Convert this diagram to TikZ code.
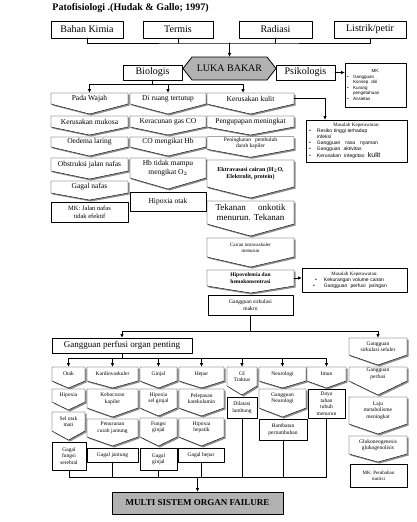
\documentclass[tikz,border=0pt]{standalone}
\usepackage{fontspec}
\setmainfont{Liberation Serif}
\newfontfamily\arial{Liberation Sans}
\usetikzlibrary{arrows.meta,shapes.arrows}
\pgfdeclarelayer{bg}
\pgfsetlayers{bg,main}

\begin{document}
\begin{tikzpicture}[x=1pt, y=-1pt, line cap=round, line join=round,
    line width=0.8pt,
    box/.style={draw, fill=white, inner sep=0.5pt, outer sep=0pt, align=center},
    arrbox/.style={inner sep=0.5pt, outer sep=0pt, align=center,
      append after command={\pgfextra{\begin{pgfonlayer}{bg}
        \fill[black!45] ([shift={(1.5,1.5)}]\tikzlastnode.north west)
          -- ([shift={(1.5,1.5)}]\tikzlastnode.north east)
          -- ([shift={(1.5,1.5)}]\tikzlastnode.south east)
          -- ([shift={(1.5,1.5+#1)}]\tikzlastnode.south)
          -- ([shift={(1.5,1.5)}]\tikzlastnode.south west) -- cycle;
        \filldraw[fill=white] (\tikzlastnode.north west)
          -- (\tikzlastnode.north east) -- (\tikzlastnode.south east)
          -- ([shift={(0,#1)}]\tikzlastnode.south)
          -- (\tikzlastnode.south west) -- cycle;
      \end{pgfonlayer}}}},
    arrbox/.default=8,
    luka/.style={shape=double arrow, double arrow head extend=0pt,
      double arrow tip angle=104, draw, fill=black!30, inner sep=0.5pt,
      outer sep=0pt, minimum height=93, minimum width=23,
      font=\fontsize{10}{11}\selectfont},
    arr/.style={-{Latex[length=4pt,width=3.5pt]}},
    fbig/.style={font=\fontsize{10}{11}\selectfont},
    fnine/.style={font=\fontsize{9}{10}\selectfont},
    fmid/.style={font=\fontsize{7.5}{8.5}\selectfont},
    fsix/.style={font=\fontsize{6.5}{7.5}\selectfont},
    fsml/.style={font=\fontsize{5.5}{6.5}\selectfont},
    ftny/.style={font=\fontsize{5}{6}\selectfont},
    note/.style={box, align=left, font=\arial\fontsize{5}{6}\selectfont}]
  \useasboundingbox (0,0) rectangle (417,522);
  \node[anchor=west, inner sep=0pt, font=\bfseries\fontsize{10}{12}\selectfont]
    (ttl) at (52,8.5) {Patofisiologi .(Hudak \& Gallo; 1997)};

  % penyebab luka bakar
  \node[box, fbig, minimum width=72, minimum height=17] (km) at (87,29.5) {Bahan Kimia};
  \node[box, fbig, minimum width=70, minimum height=17] (tr) at (178,29.5) {Termis};
  \node[box, fbig, minimum width=73, minimum height=17] (rd) at (275.5,29.5) {Radiasi};
  \node[box, fbig, minimum width=72, minimum height=17] (lp) at (370,29.5) {Listrik/petir};
  \coordinate (t1) at (229.5,43);
  \draw (km) |- (t1) -| (lp);
  \draw (tr) -- (tr |- t1);
  \draw (rd) -- (rd |- t1);

  % luka bakar, biologis dan psikologis
  \node[luka] (luka) at (229.5,68.5) {LUKA BAKAR};
  \node[box, fbig, minimum width=59, minimum height=15] (bio) at (152.5,72.5) {Biologis};
  \node[box, fbig, minimum width=59, minimum height=15] (psi) at (305.5,72.5) {Psikologis};
  \node[note, minimum width=61, minimum height=44, text width=57,
    font=\arial\fontsize{4.5}{5.5}\selectfont] (mk1) at (375.5,85)
    {{\centering MK:\par}\makebox[6pt][l]{\textbullet}Gangguan\\
     \hspace*{6pt}Konsep\ \ diri\\
     \makebox[6pt][l]{\textbullet}Kurang\\
     \hspace*{6pt}pengetahuan\\
     \makebox[6pt][l]{\textbullet}Ansietas};
  \draw[arr] (t1) -- (luka);
  \draw[arr] (psi) -- (psi -| mk1.west);

  % kolom pada wajah
  \node[arrbox=10, fmid, minimum width=77, minimum height=11] (pw) at (89.5,98.5) {Pada Wajah};
  \node[arrbox=8, fmid, minimum width=77, minimum height=11] (km2) at (89.5,121.5) {Kerusakan mukosa};
  \node[arrbox=9, fmid, minimum width=77, minimum height=10] (ol) at (89.5,142) {Oedema laring};
  \node[arrbox=8, fmid, minimum width=77, minimum height=13] (oj) at (89.5,164.5) {Obstruksi jalan nafas};
  \node[arrbox=7, fmid, minimum width=77, minimum height=12] (gn) at (89.5,187) {Gagal nafas};
  \node[box, fsix, minimum width=77, minimum height=20] (mkj) at (89.5,212) {MK: Jalan nafas\\tidak efektif};

  % kolom di ruang tertutup
  \node[arrbox=10, fmid, minimum width=76, minimum height=11] (drt) at (168,98.5) {Di ruang tertutup};
  \node[arrbox=8, fmid, minimum width=76, minimum height=11] (kg) at (168,121.5) {Keracunan gas CO};
  \node[arrbox=9, fmid, minimum width=76, minimum height=10] (ch) at (168,142) {CO mengikat Hb};
  \node[arrbox=11, fmid, minimum width=76, minimum height=20] (hb) at (168,168) {Hb tidak mampu\\mengikat O$_2$};
  \node[box, fmid, minimum width=76, minimum height=19] (ho) at (168,201.5) {Hipoxia otak};

  % kolom kerusakan kulit
  \node[arrbox=10, fmid, minimum width=87, minimum height=11] (kk) at (250.5,98.5) {Kerusakan kulit};
  \node[arrbox=8, fmid, minimum width=87, minimum height=11] (pm) at (250.5,121.5) {Pengupapan meningkat};
  \node[arrbox=8, fsml, minimum width=87, minimum height=12] (ppd) at (250.5,143) {Peningkatan\ \ \ pembuluh\\darah kapiler};
  \node[arrbox=11, minimum width=87, minimum height=27, font=\bfseries\fontsize{6}{7.5}\selectfont]
    (ek) at (250.5,173.5) {Ektravasasi cairan (H$_2$O,\\Elektrolit, protein)};
  \node[arrbox=12, fnine, minimum width=87, minimum height=23] (to) at (250.5,212.5)
    {\makebox[70pt][s]{Tekanan onkotik}\\menurun. Tekanan};
  \node[arrbox=10, ftny, minimum width=87, minimum height=19] (ci) at (250.5,247.5) {Cairan intravaskuler\\menurun};
  \node[arrbox=7, minimum width=87, minimum height=16, font=\bfseries\fontsize{5.5}{6.5}\selectfont]
    (hv) at (250.5,278) {Hipovolemia dan\\hemokonsentrasi};
  \node[box, fsml, minimum width=85, minimum height=20] (gsm) at (250.5,305) {Gangguan sirkulasi\\makro};

  % masalah keperawatan
  \node[note, minimum width=101, minimum height=42, text width=95] (ms1) at (356.5,141)
    {{\centering\rmfamily Masalah Keperawatan:\par}
     \makebox[8pt][l]{\textbullet}\makebox[77pt][s]{Resiko tinggi terhadap}\\
     \hspace*{8pt}infeksi\\
     \makebox[8pt][l]{\textbullet}Gangguan\ \ \ rasa\ \ \ nyaman\\
     \makebox[8pt][l]{\textbullet}Gangguan\ \ aktivitas\\
     \makebox[8pt][l]{\textbullet}Kerusakan\ \ integritas\ \ {\fontsize{7}{7}\selectfont kulit}};
  \node[note, minimum width=105, minimum height=24, text width=99] (ms2) at (354.5,280)
    {{\centering\rmfamily Masalah Keperawatan:\par}
     \hspace*{10pt}\makebox[9pt][l]{\textbullet}Kekurangan\ volume\ cairan\\
     \hspace*{8pt}\makebox[11pt][l]{\textbullet}Gangguan\ \ perfusi\ \ jaringan};

  \coordinate (t2) at (152.5,84);
  \draw (bio) -- (t2);
  \draw[arr] (t2) -| (pw);
  \draw[arr] (t2) -| (drt);
  \draw[arr] (t2) -| ([xshift=-7.5]kk.north);
  \draw[arr] (kk) -| ([xshift=-31.5]ms1.north);
  \draw[arr] (hv) -- (hv -| ms2.west);

  % gangguan perfusi organ penting
  \node[box, fnine, minimum width=140, minimum height=15] (gpo) at (122,345.5) {Gangguan perfusi organ penting};
  \node[arrbox=7, fsml, minimum width=33, minimum height=14] (ot) at (68.5,374) {Otak};
  \node[arrbox=7, fsml, minimum width=51, minimum height=14] (kv) at (112.5,374) {Kardiovaskuler};
  \node[arrbox=7, fsml, minimum width=37, minimum height=14] (gj) at (158.5,374) {Ginjal};
  \node[arrbox=7, fsml, minimum width=45, minimum height=14] (hp) at (201.5,374) {Hepar};
  \node[arrbox=9, fsml, minimum width=30, minimum height=19] (gi) at (242,376.5) {GI\\Traktus};
  \node[arrbox=7, fsml, minimum width=47, minimum height=14] (ne) at (282.5,374) {Neurologi};
  \node[arrbox=7, fsml, minimum width=39, minimum height=14] (im) at (326.5,374) {Imun};

  \node[arrbox=8, fsml, minimum width=33, minimum height=13] (hx1) at (68.5,395.5) {Hipoxia};
  \node[arrbox=9, fsml, minimum width=33, minimum height=19] (so) at (68.5,421.5) {Sel otak\\mati};
  \node[box, fsml, minimum width=34, minimum height=28] (gfs) at (69,456) {Gagal\\fungsi\\serebral};
  \node[arrbox=9, fsml, minimum width=51, minimum height=19] (kb) at (112.5,398.5) {Kebocoran\\kapiler};
  \node[arrbox=9, fsml, minimum width=51, minimum height=18] (pcj) at (112.5,428) {Penurunan\\curah jantung};
  \node[box, fsml, minimum width=51, minimum height=14] (gjt) at (112.5,455) {Gagal jantung};
  \node[arrbox=8, fsml, minimum width=37, minimum height=19] (hsg) at (158.5,398.5) {Hipoxia\\sel ginjal};
  \node[arrbox=9, fsml, minimum width=37, minimum height=19] (fg) at (158.5,427.5) {Fungsi\\ginjal};
  \node[box, fsml, minimum width=37, minimum height=22] (ggj) at (158.5,459) {Gagal\\ginjal};
  \node[arrbox=8, fsml, minimum width=45, minimum height=19] (pk) at (201.5,398.5) {Pelepasan\\katekolamin};
  \node[arrbox=9, fsml, minimum width=45, minimum height=19] (hh) at (201.5,427.5) {Hipoxia\\hepatik};
  \node[box, fsml, minimum width=46, minimum height=14] (gh) at (201,455) {Gagal hepar};
  \node[box, fsml, minimum width=30, minimum height=21] (dl) at (242,407.5) {Dilatasi\\lambung};
  \node[arrbox=9, fsml, minimum width=47, minimum height=19] (gnr) at (282.5,398.5) {Gangguan\\Neurologi};
  \node[box, fsml, minimum width=48, minimum height=21] (hpt) at (283,429.5) {Hambatan\\pertumbuhan};
  \node[box, fsml, minimum width=37, minimum height=29] (dt) at (326.5,403.5) {Daya\\tahan\\tubuh\\menurun};

  % gangguan sirkulasi seluler
  \node[arrbox=10, fsml, minimum width=58, minimum height=17] (gss) at (378,346.5) {Gangguan\\sirkulasi seluler};
  \node[arrbox=14, fsml, minimum width=58, minimum height=14] (gpf) at (378,374) {Gangguan\\perfusi};
  \node[arrbox=10, fsml, minimum width=58, minimum height=27] (lm) at (378,410.5) {Laju\\metabolisme\\meningkat};
  \node[arrbox=8, fsml, minimum width=58, minimum height=18] (gkg) at (378,445) {Glukoneogenesis\\glukogenolisis};
  \node[box, ftny, minimum width=57, minimum height=23] (mkn) at (378.5,475.5) {MK: Perubahan\\nutrisi};

  \coordinate (t3) at (250.5,331);
  \draw (gsm) -- (t3);
  \draw[arr] (t3) -| (gpo);
  \draw[arr] (t3) -| (gss);
  \coordinate (t4) at (122,358);
  \draw (gpo) -- (t4);
  \foreach \n in {ot,kv,gj,hp,gi,ne,im}
    \draw[arr] (t4) -| (\n);

  % kegagalan multi organ
  \node[box, fill=black!30, minimum width=171, minimum height=22,
    font=\bfseries\fontsize{9}{10}\selectfont] (msof) at (197.5,503) {MULTI SISTEM ORGAN FAILURE};
  \coordinate (t5) at (197.5,477);
  \foreach \n in {gfs,gjt,ggj,gh,dl,hpt,dt}
    \draw (\n) |- (t5);
  \draw[arr] (t5) -- (msof);
\end{tikzpicture}
\end{document}
